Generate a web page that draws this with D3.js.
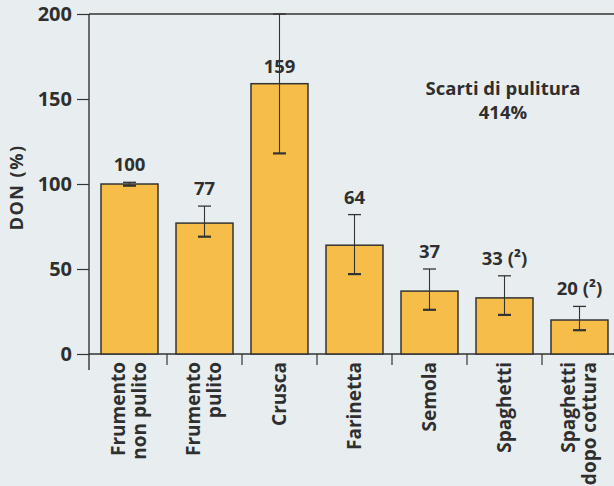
<!DOCTYPE html>
<html>
<head>
<meta charset="utf-8">
<script src="https://cdn.jsdelivr.net/npm/d3@7"></script>
<style>
  html, body { margin: 0; padding: 0; background: #e8eef0; }
  svg { display: block; }
  text { font-family: "Open Sans", "Noto Sans", sans-serif; font-weight: 700; fill: #2f2f2f; }
</style>
</head>
<body>
<div id="chart"></div>
<script>
// categories (lines of each rotated label)
const categories = [
  ["Frumento", "non pulito"],
  ["Frumento", "pulito"],
  ["Crusca"],
  ["Farinetta"],
  ["Semola"],
  ["Spaghetti"],
  ["Spaghetti", "dopo cottura"]
];
const values = [100, 77, 159, 64, 37, 33, 20];
const errLow = [99, 69, 118, 47, 26, 23, 14];
const errHigh = [101, 87, 200, 82, 50, 46, 28];
const valueLabels = ["100", "77", "159", "64", "37", "33 (\u00b2)", "20 (\u00b2)"];
const yTicks = [0, 50, 100, 150, 200];
const note = ["Scarti di pulitura", "414%"];

const width = 614, height = 486;
const cfg = {
  left: 89, base: 354, top: 14,
  barFill: "#f6bd48", ink: "#333"
};

const svg = d3.select("#chart").append("svg")
  .attr("width", width)
  .attr("height", height);

svg.append("rect").attr("width", width).attr("height", height).attr("fill", "#e8eef0");

const keys = categories.map(d => d.join(" "));

const x = d3.scaleBand()
  .domain(keys)
  .range([cfg.left, 620])
  .paddingInner(0.24)
  .paddingOuter(0.16);

const y = d3.scaleLinear().domain([0, 200]).range([cfg.base, cfg.top]);

// frame: top line, baseline, y axis line
svg.append("line")
  .attr("x1", cfg.left).attr("x2", width)
  .attr("y1", y(200)).attr("y2", y(200))
  .attr("stroke", cfg.ink).attr("stroke-width", 1.4);

svg.append("line")
  .attr("x1", cfg.left).attr("x2", width)
  .attr("y1", y(0)).attr("y2", y(0))
  .attr("stroke", cfg.ink).attr("stroke-width", 1.4);

svg.append("line")
  .attr("x1", cfg.left).attr("x2", cfg.left)
  .attr("y1", y(200)).attr("y2", y(0) + 16)
  .attr("stroke", cfg.ink).attr("stroke-width", 1.4);

// y axis
const yAxis = svg.append("g")
  .attr("transform", `translate(${cfg.left},0)`)
  .call(d3.axisLeft(y).tickValues(yTicks).tickSize(12).tickPadding(5));
yAxis.select(".domain").remove();
yAxis.selectAll(".tick line").attr("stroke", cfg.ink).attr("stroke-width", 1.2);
yAxis.selectAll(".tick text")
  .attr("font-size", 20)
  .attr("font-family", "'Open Sans', sans-serif")
  .attr("font-weight", 700)
  .attr("fill", "#2f2f2f");

svg.append("text")
  .attr("transform", `translate(23,${y(98)}) rotate(-90)`)
  .attr("text-anchor", "middle")
  .attr("font-size", 18)
  .attr("letter-spacing", 1.5)
  .text("DON (%)");

// x ticks between bars
const step = x.step();
const gap = step * x.paddingInner();
svg.append("g").selectAll("line")
  .data(keys.slice(1))
  .join("line")
  .attr("x1", d => x(d) - gap / 2)
  .attr("x2", d => x(d) - gap / 2)
  .attr("y1", y(0))
  .attr("y2", y(0) + 11)
  .attr("stroke", cfg.ink).attr("stroke-width", 1.2);

// bars
svg.append("g").selectAll("rect")
  .data(values)
  .join("rect")
  .attr("x", (d, i) => x(keys[i]))
  .attr("y", d => y(d))
  .attr("width", x.bandwidth())
  .attr("height", d => y(0) - y(d))
  .attr("fill", cfg.barFill)
  .attr("stroke", cfg.ink)
  .attr("stroke-width", 1.5);

// error bars
const cap = 6.5;
const err = svg.append("g").selectAll("g")
  .data(values)
  .join("g")
  .attr("transform", (d, i) => `translate(${x(keys[i]) + x.bandwidth() / 2},0)`);

err.append("line")
  .attr("y1", (d, i) => y(errLow[i]))
  .attr("y2", (d, i) => y(errHigh[i]))
  .attr("stroke", cfg.ink).attr("stroke-width", 1.1);
err.append("line")
  .attr("x1", -cap).attr("x2", cap)
  .attr("y1", (d, i) => y(errHigh[i]))
  .attr("y2", (d, i) => y(errHigh[i]))
  .attr("stroke", cfg.ink).attr("stroke-width", 1.3);
err.append("line")
  .attr("x1", -cap).attr("x2", cap)
  .attr("y1", (d, i) => y(errLow[i]))
  .attr("y2", (d, i) => y(errLow[i]))
  .attr("stroke", cfg.ink).attr("stroke-width", 2.2);

// value labels
svg.append("g").selectAll("text")
  .data(valueLabels)
  .join("text")
  .attr("x", (d, i) => x(keys[i]) + x.bandwidth() / 2)
  .attr("y", (d, i) => y(errHigh[i] > 190 ? values[i] : Math.max(values[i], errHigh[i])) - 11)
  .attr("text-anchor", "middle")
  .attr("font-size", 18.5)
  .text(d => d);

// category labels, rotated (one text per category, lines as tspans)
const catText = svg.append("g").selectAll("text")
  .data(categories)
  .join("text")
  .attr("transform", (d, i) => `translate(${x(keys[i]) + x.bandwidth() / 2},${y(0) + 8}) rotate(-90)`)
  .attr("text-anchor", "end")
  .attr("font-size", 19);

catText.selectAll("tspan")
  .data(d => d.map((t, j) => ({ t, j, n: d.length })))
  .join("tspan")
  .attr("x", 0)
  .attr("y", d => (d.j - (d.n - 1) / 2) * 20.5 + 6)
  .text(d => d.t);

// note, two lines
svg.append("g").selectAll("text")
  .data(note)
  .join("text")
  .attr("x", 503)
  .attr("y", (d, i) => 95 + i * 24)
  .attr("text-anchor", "middle")
  .attr("font-size", 18.5)
  .text(d => d);
</script>
</body>
</html>
